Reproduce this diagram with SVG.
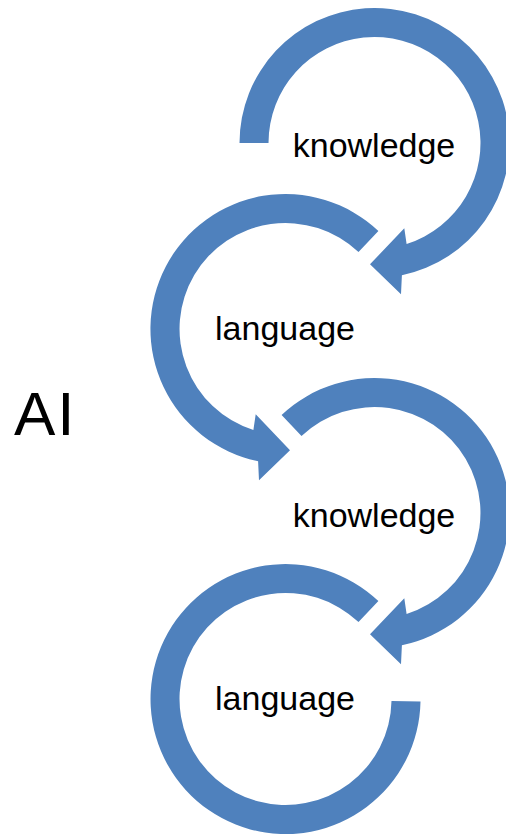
<svg xmlns="http://www.w3.org/2000/svg" width="506" height="834" viewBox="0 0 506 834">
  <style>
    .ring { fill: #4F81BD; stroke: none; }
    .lbl { font-family: "Liberation Sans", Arial, sans-serif; font-size: 34px; fill: #000000; text-anchor: middle; }
    .title { font-family: "Liberation Sans", Arial, sans-serif; font-size: 62px; fill: #000000; }
  </style>
  <rect width="506" height="834" fill="#FFFFFF"/>
  <g id="title-ai">
    <text class="title" x="14" y="435" letter-spacing="2">AI</text>
  </g>
  <g id="node-knowledge-1">
    <path class="ring" d="M239.5,143 A135,135 0 1 1 401.9,275.2 L401,294.3 L370,264.3 L404.3,228.3 L406.6,244 A106,106 0 1 0 268.5,143 Z"/>
    <text class="lbl" x="374" y="157">knowledge</text>
  </g>
  <g id="node-language-1">
    <path class="ring" d="M378.4,231.1 A135,135 0 1 0 258.1,461.2 L259,480.3 L290,450.3 L255.7,414.3 L253.4,430 A106,106 0 1 1 358.5,252.1 Z"/>
    <text class="lbl" x="285" y="340">language</text>
  </g>
  <g id="node-knowledge-2">
    <path class="ring" d="M281.6,415.1 A135,135 0 1 1 401.9,645.2 L401,664.3 L370,634.3 L404.3,598.3 L406.6,614 A106,106 0 1 0 301.5,436.1 Z"/>
    <text class="lbl" x="374" y="527">knowledge</text>
  </g>
  <g id="node-language-2">
    <path class="ring" d="M378.4,601.1 A135,135 0 1 0 420.5,701.4 L391.5,700.9 A106,106 0 1 1 358.5,622.1 Z"/>
    <text class="lbl" x="285" y="710">language</text>
  </g>
  <g id="connectors"></g>
</svg>
